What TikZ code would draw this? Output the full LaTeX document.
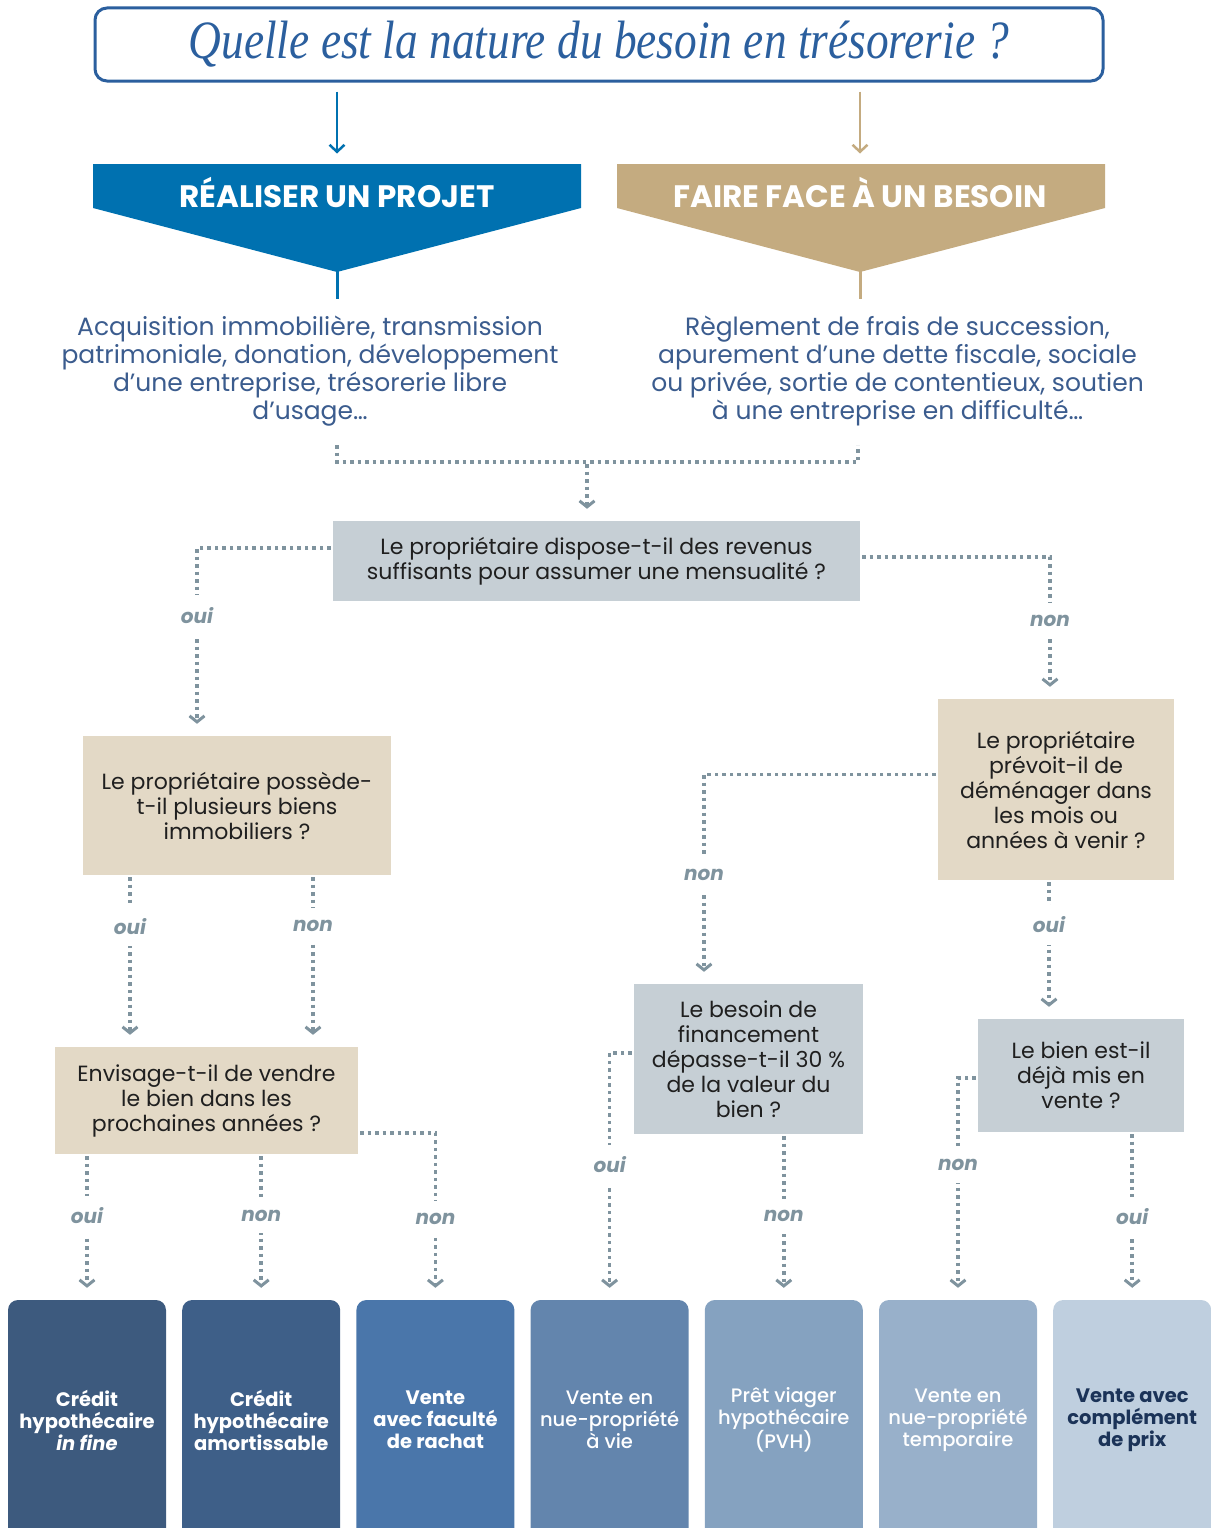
\documentclass[tikz,border=0pt]{standalone}
\usepackage{fontspec}
\usepackage{graphicx}
\setmainfont{Poppins}
\newfontfamily\titlefont{Liberation Serif}
\newfontfamily\medfont{Poppins Medium}
\usetikzlibrary{arrows.meta}

\definecolor{titleblue}{HTML}{2B5F9E}
\definecolor{projblue}{HTML}{0071B0}
\definecolor{besointan}{HTML}{C4AB80}
\definecolor{desctext}{HTML}{3B5C8E}
\definecolor{dotgrey}{HTML}{7F939E}
\definecolor{greybox}{HTML}{C6CFD5}
\definecolor{tanbox}{HTML}{E3D9C6}
\definecolor{ink}{HTML}{1F1F1F}
\definecolor{navy}{HTML}{1B3358}
\definecolor{solA}{HTML}{3D5A7E}
\definecolor{solB}{HTML}{3E5F88}
\definecolor{solC}{HTML}{4A76AA}
\definecolor{solD}{HTML}{6385AD}
\definecolor{solE}{HTML}{85A2C0}
\definecolor{solF}{HTML}{98B0CA}
\definecolor{solG}{HTML}{BFCFDF}

\begin{document}
\begin{tikzpicture}[x=1pt,y=-1pt,
		question/.style={align=center, text=ink, font=\fontsize{22}{25}\selectfont, inner sep=0pt},
		greyq/.style={question, fill=greybox},
		tanq/.style={question, fill=tanbox},
		banner/.style={text=white, font=\fontsize{31}{34}\selectfont\bfseries},
		desc/.style={align=center, text=desctext, font=\fontsize{25}{28}\selectfont},
		topflow/.style={line width=2.5pt, -{Straight Barb[length=7pt,width=15pt]}},
		link/.style={dotgrey, line width=3.5pt, dash pattern=on 3.5pt off 4pt},
		flow/.style={link, -{Straight Barb[length=6pt,width=15pt,line width=3pt]}, shorten >=12pt, shorten <=2pt},
		answer/.style={fill=white, text=dotgrey, font=\fontsize{20}{22}\selectfont\bfseries\itshape, inner xsep=2pt, inner ysep=12pt, yshift=4pt},
		solution/.style={rounded corners=10pt, minimum width=158pt, minimum height=240pt, align=center, font=\fontsize{19.5}{22}\selectfont\bfseries, text=white}
		]
	\useasboundingbox (0,0) rectangle (1210,1528);

	% question de depart
	\node[draw=titleblue, line width=3pt, rounded corners=12pt, minimum width=1008pt, minimum height=73pt, text=titleblue] (title) at (599,44.5)
		{\titlefont\itshape\fontsize{54}{58}\selectfont\scalebox{0.84}[1]{Quelle est la nature du besoin en trésorerie ?}};

	% les deux bandeaux
	\fill[projblue] (93,164) -- (581,164) -- (581,208) -- (337,272) -- (93,208) -- cycle;
	\node[banner] (projet) at (337,192) {RÉALISER UN PROJET};
	\fill[besointan] (617,164) -- (1105,164) -- (1105,208) -- (860,272) -- (617,208) -- cycle;
	\node[banner] (besoin) at (860,192) {FAIRE FACE À UN BESOIN};

	\draw[topflow, projblue] ([yshift=-9pt]title.south -| projet) -- ++(0,62);
	\draw[topflow, besointan] ([yshift=-9pt]title.south -| besoin) -- ++(0,62);
	\draw[projblue, line width=3pt] (337,271) -- (337,299);
	\draw[besointan, line width=3pt] (860,271) -- (860,299);

	\node[desc] (dprojet) at (310,371) {Acquisition immobilière, transmission\\patrimoniale, donation, développement\\d’une entreprise, trésorerie libre\\d’usage…};
	\node[desc] (dbesoin) at (897.5,371) {Règlement de frais de succession,\\apurement d’une dette fiscale, sociale\\ou privée, sortie de contentieux, soutien\\à une entreprise en difficulté…};

	% questions
	\node[greyq, minimum width=527pt, minimum height=80pt] (q1) at (596.5,561) {Le propriétaire dispose-t-il des revenus\\suffisants pour assumer une mensualité ?};
	\node[tanq, minimum width=308pt, minimum height=139pt] (q2) at (237,805.5) {Le propriétaire possède-\\t-il plusieurs biens\\immobiliers ?};
	\node[tanq, minimum width=236pt, minimum height=181pt] (q3) at (1056,789.5) {Le propriétaire\\prévoit-il de\\déménager dans\\les mois ou\\années à venir ?};
	\node[tanq, minimum width=303pt, minimum height=107pt] (q4) at (206.5,1100.5) {Envisage-t-il de vendre\\le bien dans les\\prochaines années ?};
	\node[greyq, minimum width=229pt, minimum height=150pt] (q5) at (748.5,1059) {Le besoin de\\financement\\dépasse-t-il 30 \%\\de la valeur du\\bien ?};
	\node[greyq, minimum width=206pt, minimum height=113pt] (q6) at (1081,1075.5) {Le bien est-il\\déjà mis en\\vente ?};

	% solutions
	\node[solution, fill=solA] (s1) at (87,1420) {Crédit\\hypothécaire\\\textit{in fine}};
	\node[solution, fill=solB] (s2) at (261.2,1420) {Crédit\\hypothécaire\\amortissable};
	\node[solution, fill=solC] (s3) at (435.4,1420) {Vente\\avec faculté\\de rachat};
	\node[solution, fill=solD, font=\fontsize{19.5}{22}\medfont] (s4) at (609.6,1420) {Vente en\\nue-propriété\\à vie};
	\node[solution, fill=solE, font=\fontsize{19.5}{22}\medfont] (s5) at (783.8,1420) {Prêt viager\\hypothécaire\\(PVH)};
	\node[solution, fill=solF, font=\fontsize{19.5}{22}\medfont] (s6) at (958,1420) {Vente en\\nue-propriété\\temporaire};
	\node[solution, fill=solG, text=navy] (s7) at (1132.2,1420) {Vente avec\\complément\\de prix};

	% liaisons
	\coordinate (mleft) at (337,445);
	\coordinate (mright) at (858,445);
	\coordinate (mmid) at (587,462);
	\draw[link] (mleft) |- (mmid) -| (mright);
	\draw[flow] (mmid) -- (mmid |- q1.north);

	\draw[flow] ([yshift=13pt]q1.west) -| node[answer, pos=0.69] {oui} ([xshift=-40pt]q2.north);
	\draw[flow] ([yshift=4pt]q1.east) -| node[answer, pos=0.74] {non} ([xshift=-6pt]q3.north);

	\draw[flow] ([xshift=-107pt]q2.south) -- node[answer, pos=0.32] {oui} ([xshift=-76.5pt]q4.north);
	\draw[flow] ([xshift=76pt]q2.south) -- node[answer, pos=0.32] {non} ([xshift=106.5pt]q4.north);

	\draw[flow] ([yshift=15pt]q3.west) -| node[answer, pos=0.75] {non} ([xshift=-44.5pt]q5.north);
	\draw[flow] ([xshift=-7pt]q3.south) -- node[answer, pos=0.35] {oui} ([xshift=-32pt]q6.north);

	\draw[flow] (q4.south -| s1.north) -- node[answer, pos=0.45] {oui} (s1.north);
	\draw[flow] (q4.south -| s2.north) -- node[answer, pos=0.45] {non} (s2.north);
	\draw[flow] ([yshift=-32.5pt]q4.east) -| node[answer, pos=0.77] {non} (s3.north);

	\draw[flow] ([yshift=6pt]q5.west) -| node[answer, pos=0.735] {oui} (s4.north);
	\draw[flow] (q5.south -| s5.north) -- node[answer, pos=0.52] {non} (s5.north);

	\draw[flow] ([yshift=-2.5pt]q6.west) -| node[answer, pos=0.705] {non} (s6.north);
	\draw[flow] (q6.south -| s7.north) -- node[answer, pos=0.53] {oui} (s7.north);
\end{tikzpicture}
\end{document}
